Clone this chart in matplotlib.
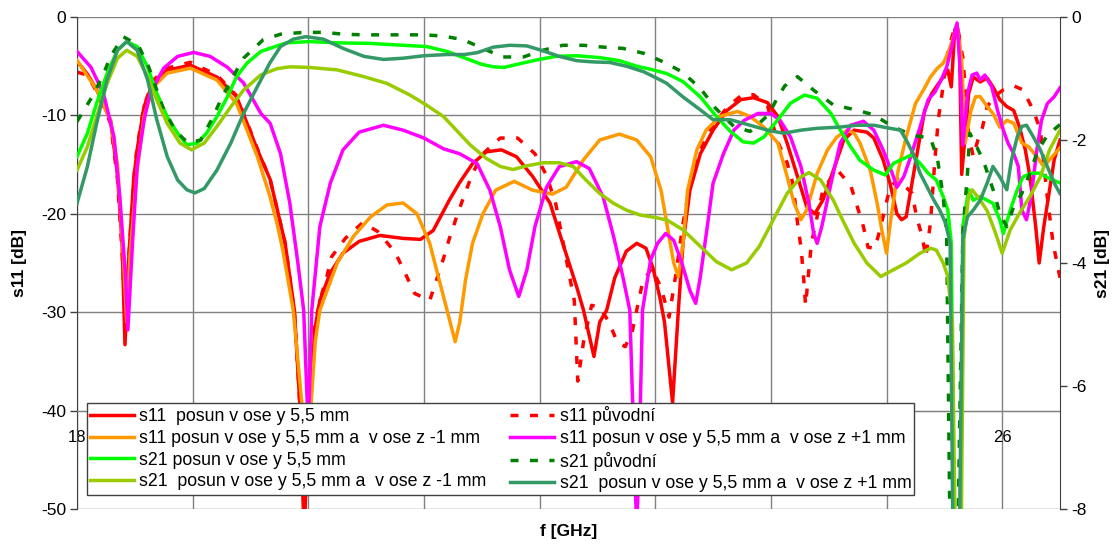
import matplotlib
matplotlib.use('Agg')
import matplotlib.pyplot as plt

plt.rcParams['font.family'] = ['Liberation Sans', 'DejaVu Sans']
plt.rcParams['axes.unicode_minus'] = False

# ---------------- data ----------------
x_ticks = [18, 19, 20, 21, 22, 23, 24, 25, 26]
# labels 19-25 sit behind the legend in the reference, only 18 and 26 show
x_tick_labels = ['18', '', '', '', '', '', '', '', '26']
s11_ticks = [-50, -40, -30, -20, -10, 0]
s21_ticks = [-8, -6, -4, -2, 0]

labels = [
    "s11  posun v ose y 5,5 mm",
    "s11 posun v ose y 5,5 mm a  v ose z -1 mm",
    "s21 posun v ose y 5,5 mm",
    "s21  posun v ose y 5,5 mm a  v ose z -1 mm",
    "s11 původní",
    "s11 posun v ose y 5,5 mm a  v ose z +1 mm",
    "s21 původní",
    "s21  posun v ose y 5,5 mm a  v ose z +1 mm",
]

# s11 posun v ose y 5,5 mm (red)
f_red = [18.00, 18.09, 18.17, 18.29, 18.35, 18.39, 18.415, 18.45, 18.49, 18.52, 18.58, 18.66, 18.78, 18.98,
         19.21, 19.38, 19.56, 19.67, 19.73, 19.80, 19.88, 19.93, 19.965, 20.00, 20.06, 20.10, 20.19, 20.30,
         20.44, 20.62, 20.82, 20.97, 21.08, 21.22, 21.31, 21.42, 21.54, 21.67, 21.80, 21.94, 22.09, 22.20,
         22.32, 22.38, 22.47, 22.52, 22.58, 22.65, 22.75, 22.84, 22.92, 22.98, 23.04, 23.08, 23.15, 23.20,
         23.24, 23.30, 23.39, 23.50, 23.62, 23.74, 23.85, 23.97, 24.06, 24.14, 24.23, 24.31, 24.38, 24.45,
         24.54, 24.63, 24.72, 24.83, 24.89, 24.97, 25.03, 25.09, 25.13, 25.17, 25.22, 25.28, 25.33, 25.39,
         25.43, 25.49, 25.53, 25.56, 25.59, 25.61, 25.63, 25.65, 25.68, 25.71, 25.75, 25.81, 25.87, 25.92,
         25.98, 26.04, 26.10, 26.15, 26.20, 26.24, 26.29, 26.32, 26.36, 26.40, 26.45, 26.50]
s11_red = [-4.5, -5.8, -7.4, -10.5, -16.0, -23.0, -33.3, -24.0, -16.5, -13.5, -9.1, -6.6, -5.4, -4.9,
           -6.1, -8.1, -13.5, -16.5, -19.5, -23.0, -29.8, -40.0, -53.0, -40.0, -31.5, -28.8, -26.0, -24.0,
           -22.8, -22.2, -22.5, -22.6, -21.7, -18.6, -16.8, -14.9, -13.7, -13.5, -14.2, -16.2, -18.9, -23.0,
           -27.4, -29.8, -34.5, -31.0, -29.8, -26.5, -23.8, -23.0, -23.5, -25.5, -28.5, -31.0, -39.2, -29.8,
           -23.0, -17.6, -13.9, -11.5, -9.5, -8.4, -8.2, -8.7, -10.1, -12.8, -16.2, -19.3, -20.0, -18.6,
           -15.6, -12.5, -11.5, -11.7, -12.3, -14.5, -16.9, -20.0, -20.6, -20.3, -16.9, -12.8, -9.5, -7.8,
           -7.1, -6.1, -5.4, -7.1, -1.3, -0.9, -2.0, -16.0, -12.0, -7.8, -6.1, -6.6, -6.2, -7.1,
           -8.4, -9.1, -9.5, -11.2, -13.5, -16.2, -21.3, -25.0, -21.3, -18.3, -14.5, -12.5]

# s11 posun v ose y 5,5 mm a v ose z -1 mm (orange)
f_or = [18.00, 18.17, 18.29, 18.35, 18.40, 18.43, 18.46, 18.52, 18.58, 18.66, 18.78, 18.98, 19.21, 19.38,
        19.56, 19.67, 19.73, 19.78, 19.87, 19.95, 19.98, 20.02, 20.06, 20.10, 20.25, 20.39, 20.54, 20.68,
        20.82, 20.94, 21.05, 21.14, 21.20, 21.27, 21.31, 21.36, 21.42, 21.51, 21.62, 21.78, 21.94, 22.11,
        22.23, 22.38, 22.52, 22.69, 22.84, 22.96, 23.05, 23.10, 23.16, 23.20, 23.24, 23.28, 23.36, 23.44,
        23.56, 23.71, 23.82, 23.94, 24.06, 24.14, 24.20, 24.26, 24.31, 24.40, 24.49, 24.57, 24.66, 24.72,
        24.77, 24.86, 24.92, 24.96, 25.00, 25.04, 25.10, 25.17, 25.25, 25.32, 25.38, 25.44, 25.49, 25.53,
        25.58, 25.61, 25.65, 25.68, 25.73, 25.77, 25.81, 25.87, 25.92, 25.98, 26.04, 26.10, 26.17, 26.23,
        26.30, 26.36, 26.41, 26.50]
s11_or = [-4.4, -7.4, -10.5, -15.0, -24.0, -31.0, -24.0, -15.6, -10.1, -7.1, -5.7, -5.2, -6.4, -8.8,
          -14.2, -18.3, -21.0, -23.7, -29.8, -40.0, -46.0, -40.0, -33.0, -29.8, -25.0, -22.3, -20.3, -19.1,
          -18.9, -20.0, -23.0, -27.1, -29.8, -33.0, -31.0, -26.7, -23.0, -20.0, -17.6, -16.7, -17.6, -18.0,
          -17.3, -14.5, -12.5, -11.9, -12.5, -14.2, -17.6, -21.0, -25.0, -26.4, -23.0, -17.6, -13.5, -11.5,
          -10.1, -9.6, -10.1, -11.2, -12.8, -16.2, -18.9, -20.6, -19.6, -15.9, -13.5, -12.2, -11.5, -11.8,
          -12.8, -15.6, -19.0, -21.7, -24.0, -20.3, -15.6, -12.2, -8.8, -7.4, -6.1, -5.2, -4.7, -3.7,
          -2.0, -1.0, -4.4, -12.8, -9.5, -8.1, -8.1, -9.1, -9.8, -11.2, -10.5, -10.8, -12.8, -13.2,
          -14.2, -15.2, -14.5, -13.3]

# s11 puvodni (red dashed)
f_rd = [18.00, 18.09, 18.17, 18.29, 18.35, 18.39, 18.42, 18.45, 18.49, 18.52, 18.58, 18.66, 18.78, 18.98,
        19.21, 19.38, 19.56, 19.67, 19.73, 19.80, 19.88, 19.93, 19.965, 20.00, 20.06, 20.12, 20.16, 20.20,
        20.32, 20.47, 20.60, 20.75, 20.84, 20.92, 21.05, 21.11, 21.17, 21.22, 21.28, 21.34, 21.41, 21.50,
        21.66, 21.81, 21.96, 22.06, 22.14, 22.20, 22.26, 22.30, 22.33, 22.38, 22.45, 22.52, 22.60, 22.67,
        22.74, 22.80, 22.89, 22.97, 23.05, 23.12, 23.18, 23.24, 23.30, 23.39, 23.50, 23.62, 23.74, 23.85,
        23.97, 24.06, 24.14, 24.19, 24.23, 24.26, 24.28, 24.30, 24.35, 24.45, 24.57, 24.69, 24.80, 24.84,
        24.90, 24.95, 24.99, 25.03, 25.10, 25.22, 25.26, 25.31, 25.34, 25.38, 25.42, 25.45, 25.48, 25.52,
        25.55, 25.59, 25.63, 25.66, 25.71, 25.75, 25.79, 25.83, 25.87, 25.94, 26.01, 26.10, 26.18, 26.27,
        26.33, 26.39, 26.44, 26.50]
s11_rd = [-5.6, -5.9, -7.6, -10.8, -16.5, -24.0, -31.0, -24.0, -16.5, -13.2, -9.0, -6.4, -5.2, -4.6,
          -5.9, -8.0, -13.4, -16.5, -19.5, -23.0, -30.0, -40.0, -45.0, -38.0, -31.0, -28.0, -26.4, -24.4,
          -22.5, -20.9, -21.8, -23.9, -26.1, -28.1, -28.8, -26.7, -24.5, -22.5, -20.4, -18.4, -16.2, -14.0,
          -12.3, -12.3, -13.9, -16.1, -19.0, -22.7, -26.4, -28.8, -37.0, -33.0, -29.3, -29.5, -31.0, -33.0,
          -33.5, -32.0, -27.0, -25.5, -27.5, -30.5, -26.0, -21.0, -17.0, -13.5, -11.0, -9.2, -8.0, -7.9,
          -9.0, -12.7, -14.8, -16.9, -20.9, -23.4, -26.0, -29.3, -23.0, -17.6, -15.5, -17.1, -21.3, -23.4,
          -23.5, -21.3, -19.3, -17.3, -16.5, -17.9, -20.3, -22.4, -24.4, -20.9, -14.2, -10.2, -7.8, -4.1,
          -2.7, -1.0, -2.5, -4.1, -12.0, -14.2, -12.5, -11.2, -9.1, -8.0, -7.4, -7.0, -7.4, -9.5,
          -11.5, -18.3, -23.0, -26.5]

# s11 posun v ose y 5,5 mm a v ose z +1 mm (magenta)
f_mg = [18.00, 18.12, 18.23, 18.32, 18.37, 18.42, 18.44, 18.48, 18.52, 18.58, 18.63, 18.75, 18.87, 19.01,
        19.15, 19.30, 19.44, 19.59, 19.67, 19.76, 19.84, 19.91, 19.96, 20.00, 20.03, 20.10, 20.19, 20.30,
        20.44, 20.65, 20.82, 21.00, 21.17, 21.31, 21.46, 21.57, 21.66, 21.74, 21.82, 21.89, 21.96, 22.06,
        22.17, 22.32, 22.43, 22.55, 22.64, 22.72, 22.78, 22.82, 22.84, 22.86, 22.89, 22.96, 23.02, 23.09,
        23.16, 23.23, 23.30, 23.35, 23.39, 23.45, 23.50, 23.59, 23.68, 23.77, 23.89, 24.00, 24.08, 24.17,
        24.26, 24.33, 24.37, 24.40, 24.44, 24.52, 24.60, 24.69, 24.80, 24.89, 24.97, 25.05, 25.09, 25.15,
        25.20, 25.29, 25.36, 25.42, 25.48, 25.52, 25.57, 25.61, 25.64, 25.66, 25.70, 25.74, 25.78, 25.81,
        25.85, 25.91, 25.96, 26.01, 26.05, 26.10, 26.14, 26.17, 26.21, 26.25, 26.30, 26.34, 26.39, 26.45,
        26.50]
s11_mg = [-3.5, -5.1, -7.8, -12.2, -18.3, -26.4, -31.8, -23.0, -15.2, -10.5, -7.8, -5.2, -4.0, -3.6,
          -4.0, -5.1, -6.7, -9.8, -10.8, -13.9, -18.9, -25.0, -29.8, -42.0, -29.8, -21.3, -16.9, -13.5,
          -11.7, -11.0, -11.5, -12.3, -13.4, -13.9, -14.9, -17.6, -21.3, -25.7, -28.4, -25.7, -21.3, -17.3,
          -15.2, -14.7, -15.4, -18.3, -22.3, -26.4, -29.8, -45.0, -52.0, -45.0, -29.8, -24.7, -23.0, -22.0,
          -22.7, -25.0, -27.8, -29.1, -26.4, -21.3, -16.9, -13.9, -11.5, -10.5, -9.8, -9.8, -10.5, -12.2,
          -15.2, -19.0, -22.0, -23.0, -21.3, -16.9, -12.8, -11.0, -10.6, -11.5, -13.5, -15.9, -17.3, -16.2,
          -14.5, -11.2, -8.4, -7.6, -6.2, -5.1, -2.7, -0.6, -6.0, -13.0, -7.8, -5.9, -5.7, -6.4,
          -5.9, -7.1, -9.5, -11.5, -12.8, -13.9, -15.2, -19.6, -20.6, -18.3, -13.5, -10.5, -8.8, -8.1,
          -7.2]

# s21 posun v ose y 5,5 mm (lime)
f_lm = [18.00, 18.09, 18.17, 18.26, 18.35, 18.43, 18.52, 18.61, 18.69, 18.78, 18.87, 18.95, 19.04, 19.12,
        19.21, 19.30, 19.38, 19.47, 19.59, 19.73, 19.81, 20.01, 20.25, 20.54, 20.82, 21.02, 21.20, 21.40,
        21.50, 21.60, 21.69, 21.83, 21.97, 22.14, 22.32, 22.52, 22.69, 22.84, 22.96, 23.10, 23.24, 23.39,
        23.53, 23.65, 23.76, 23.85, 23.94, 24.06, 24.17, 24.29, 24.40, 24.52, 24.60, 24.69, 24.77, 24.89,
        24.99, 25.06, 25.15, 25.22, 25.29, 25.36, 25.43, 25.49, 25.53, 25.56, 25.585, 25.635, 25.66, 25.71,
        25.75, 25.81, 25.87, 25.92, 25.98, 26.01, 26.07, 26.13, 26.18, 26.25, 26.33, 26.38, 26.44, 26.50]
s21_lm = [-2.27, -1.89, -1.40, -0.92, -0.54, -0.40, -0.48, -0.81, -1.24, -1.62, -1.89, -2.08, -2.05, -1.89,
          -1.62, -1.30, -0.97, -0.75, -0.56, -0.47, -0.42, -0.40, -0.42, -0.43, -0.46, -0.48, -0.56, -0.70,
          -0.77, -0.81, -0.82, -0.76, -0.70, -0.64, -0.63, -0.66, -0.71, -0.80, -0.85, -0.92, -1.05, -1.30,
          -1.62, -1.86, -2.03, -2.05, -1.95, -1.67, -1.40, -1.27, -1.32, -1.57, -1.84, -2.11, -2.33, -2.49,
          -2.57, -2.38, -2.30, -2.24, -2.38, -2.54, -2.65, -2.92, -3.14, -3.68, -8.6, -8.6, -3.40, -2.81,
          -2.98, -2.92, -2.98, -3.03, -3.30, -3.52, -3.14, -2.81, -2.60, -2.54, -2.54, -2.60, -2.65, -2.70]

# s21 posun v ose y 5,5 mm a v ose z -1 mm (yellow-green)
f_yg = [18.00, 18.09, 18.17, 18.26, 18.35, 18.43, 18.52, 18.61, 18.69, 18.78, 18.89, 18.99, 19.10, 19.21,
        19.33, 19.44, 19.59, 19.73, 19.84, 20.01, 20.25, 20.48, 20.68, 20.88, 21.02, 21.17, 21.28, 21.40,
        21.54, 21.66, 21.77, 21.89, 22.03, 22.17, 22.29, 22.40, 22.52, 22.64, 22.75, 22.87, 23.00, 23.10,
        23.24, 23.39, 23.53, 23.66, 23.79, 23.90, 24.02, 24.14, 24.26, 24.33, 24.43, 24.54, 24.62, 24.72,
        24.83, 24.95, 25.06, 25.17, 25.29, 25.38, 25.43, 25.49, 25.53, 25.57, 25.595, 25.645, 25.67, 25.71,
        25.74, 25.80, 25.87, 25.94, 26.00, 26.07, 26.15, 26.24, 26.33, 26.41, 26.50]
s21_yg = [-2.49, -2.11, -1.62, -1.08, -0.67, -0.54, -0.64, -0.97, -1.35, -1.73, -2.05, -2.16, -2.05, -1.78,
          -1.46, -1.19, -0.94, -0.84, -0.81, -0.82, -0.86, -0.97, -1.08, -1.27, -1.43, -1.62, -1.84, -2.08,
          -2.30, -2.43, -2.48, -2.42, -2.37, -2.37, -2.43, -2.65, -2.87, -3.03, -3.14, -3.22, -3.26, -3.30,
          -3.46, -3.73, -3.98, -4.11, -4.00, -3.73, -3.30, -2.87, -2.60, -2.53, -2.65, -2.98, -3.30, -3.68,
          -4.00, -4.22, -4.11, -4.00, -3.84, -3.76, -3.79, -4.00, -4.22, -5.0, -8.6, -8.6, -3.60, -2.90,
          -2.81, -2.95, -3.15, -3.50, -3.84, -3.46, -3.19, -2.92, -2.60, -2.16, -1.84]

# s21 puvodni (dark green dashed)
f_gd = [18.00, 18.13, 18.22, 18.29, 18.40, 18.53, 18.62, 18.74, 18.85, 18.96, 19.07, 19.17, 19.25, 19.34,
        19.44, 19.61, 19.76, 19.96, 20.13, 20.31, 20.48, 21.00, 21.17, 21.34, 21.51, 21.68, 21.86, 22.03,
        22.20, 22.38, 22.55, 22.72, 22.90, 23.07, 23.23, 23.39, 23.52, 23.68, 23.82, 23.98, 24.06, 24.12,
        24.23, 24.37, 24.54, 24.71, 24.89, 25.05, 25.22, 25.38, 25.44, 25.49, 25.52, 25.55, 25.615, 25.66,
        25.70, 25.72, 25.78, 25.84, 25.92, 25.98, 26.04, 26.10, 26.17, 26.24, 26.30, 26.39, 26.50]
s21_gd = [-1.70, -1.30, -0.97, -0.64, -0.32, -0.46, -0.81, -1.46, -1.85, -2.05, -2.00, -1.65, -1.32, -1.00,
          -0.67, -0.37, -0.28, -0.25, -0.25, -0.28, -0.29, -0.29, -0.31, -0.37, -0.51, -0.65, -0.65, -0.54,
          -0.46, -0.46, -0.49, -0.51, -0.59, -0.73, -0.89, -1.16, -1.48, -1.78, -1.86, -1.59, -1.30, -1.12,
          -0.97, -1.19, -1.43, -1.50, -1.59, -1.78, -1.92, -1.97, -2.30, -2.92, -3.57, -8.6, -8.6, -3.50,
          -2.54, -1.89, -2.11, -2.35, -2.80, -3.19, -3.41, -3.08, -2.87, -2.54, -2.21, -1.92, -1.75]

# s21 posun v ose y 5,5 mm a v ose z +1 mm (sea green)
f_sg = [18.00, 18.09, 18.17, 18.26, 18.35, 18.43, 18.52, 18.61, 18.69, 18.78, 18.87, 18.95, 19.02, 19.10,
        19.21, 19.33, 19.44, 19.56, 19.67, 19.76, 19.87, 19.98, 20.13, 20.30, 20.48, 20.65, 20.82, 21.00,
        21.20, 21.35, 21.46, 21.60, 21.74, 21.89, 22.03, 22.17, 22.32, 22.46, 22.61, 22.75, 22.90, 23.04,
        23.10, 23.24, 23.39, 23.50, 23.65, 23.82, 23.97, 24.11, 24.26, 24.40, 24.60, 24.74, 24.89, 25.03,
        25.12, 25.17, 25.23, 25.29, 25.35, 25.41, 25.46, 25.51, 25.55, 25.575, 25.63, 25.66, 25.70, 25.75,
        25.81, 25.87, 25.92, 25.98, 26.04, 26.08, 26.13, 26.17, 26.21, 26.27, 26.33, 26.39, 26.45, 26.50]
s21_sg = [-3.03, -2.43, -1.73, -1.02, -0.54, -0.40, -0.54, -1.02, -1.67, -2.27, -2.65, -2.81, -2.86, -2.79,
          -2.49, -2.05, -1.57, -1.13, -0.74, -0.48, -0.36, -0.32, -0.36, -0.51, -0.64, -0.69, -0.67, -0.63,
          -0.61, -0.61, -0.58, -0.49, -0.46, -0.47, -0.55, -0.64, -0.71, -0.73, -0.74, -0.80, -0.89, -1.02,
          -1.08, -1.30, -1.51, -1.67, -1.67, -1.76, -1.84, -1.89, -1.84, -1.81, -1.79, -1.76, -1.76, -1.81,
          -1.84, -2.00, -2.22, -2.54, -2.76, -2.98, -3.14, -3.35, -3.68, -8.6, -8.6, -3.60, -3.25, -3.14,
          -2.98, -2.70, -2.43, -2.60, -2.81, -2.33, -1.95, -1.78, -1.76, -1.95, -2.16, -2.43, -2.70, -2.87]

# ---------------- figure ----------------
W, H = 1117, 544
fig = plt.figure(figsize=(W / 100, H / 100), dpi=100)
L, R, T, B = 77, 1060, 17, 509
ax = fig.add_axes([L / W, (H - B) / H, (R - L) / W, (B - T) / H])
ax2 = ax.twinx()

lw = 2.5
dash = (2.3, 3.3)

l_red, = ax.plot(f_red, s11_red, color='#FF0000', lw=lw, zorder=3)
l_rd, = ax.plot(f_rd, s11_rd, color='#FF0000', lw=lw, dashes=dash, zorder=2)
l_or, = ax.plot(f_or, s11_or, color='#FF9900', lw=lw, zorder=4)
l_mg, = ax.plot(f_mg, s11_mg, color='#FF00FF', lw=lw, zorder=5)

l_lm, = ax2.plot(f_lm, s21_lm, color='#00FF00', lw=lw, zorder=2)
l_gd, = ax2.plot(f_gd, s21_gd, color='#008000', lw=lw, dashes=dash, zorder=3)
l_yg, = ax2.plot(f_yg, s21_yg, color='#99CC00', lw=lw, zorder=4)
l_sg, = ax2.plot(f_sg, s21_sg, color='#339966', lw=lw, zorder=5)

ax.set_xlim(18, 26.5)
ax.set_ylim(-50, 0)
ax2.set_ylim(-8, 0)
ax.set_xticks(x_ticks)
ax.set_xticklabels(x_tick_labels)
ax.set_yticks(s11_ticks)
ax2.set_yticks(s21_ticks)

ax.grid(True, color='#808080', lw=1.0, zorder=0)
ax.set_axisbelow(True)

for s in ['top', 'right']:
    ax.spines[s].set_visible(False)
for s in ['top', 'bottom', 'left']:
    ax2.spines[s].set_visible(False)
ax.spines['bottom'].set_position(('data', -40))
ax.spines['bottom'].set_color('#808080')
ax.spines['left'].set_color('#404040')
ax2.spines['right'].set_color('#404040')

ax.tick_params(axis='x', length=0, pad=14, labelsize=12)
ax.tick_params(axis='y', direction='out', length=5, width=1, color='#404040', labelsize=12.5, pad=3)
ax2.tick_params(axis='y', direction='out', length=5, width=1, color='#404040', labelsize=12.5, pad=3)

ax.set_xlabel('f [GHz]', fontsize=12.5, fontweight='bold')
ax.xaxis.set_label_coords(0.5, -0.030)
ax.set_ylabel('s11 [dB]', fontsize=12.5, fontweight='bold')
ax.yaxis.set_label_coords(-0.051, 0.5)
ax2.set_ylabel('s21 [dB]', fontsize=12.5, fontweight='bold', rotation=90)
ax2.yaxis.set_label_coords(1.036, 0.5)

handles = [l_red, l_or, l_lm, l_yg, l_rd, l_mg, l_gd, l_sg]
leg = ax2.legend(handles, labels, ncol=2, loc='lower left',
                 bbox_to_anchor=((87 - L) / (R - L), (B - 495) / (B - T), (914 - 87) / (R - L), 0.18),
                 mode='expand', borderaxespad=0, fancybox=False, framealpha=1,
                 edgecolor='#404040', fontsize=12.8, handlelength=2.5, handletextpad=0.3,
                 labelspacing=0.27, borderpad=0.15, columnspacing=1.0)
leg.get_frame().set_linewidth(1.0)
leg.set_zorder(10)

fig.savefig('out.png', dpi=100)
